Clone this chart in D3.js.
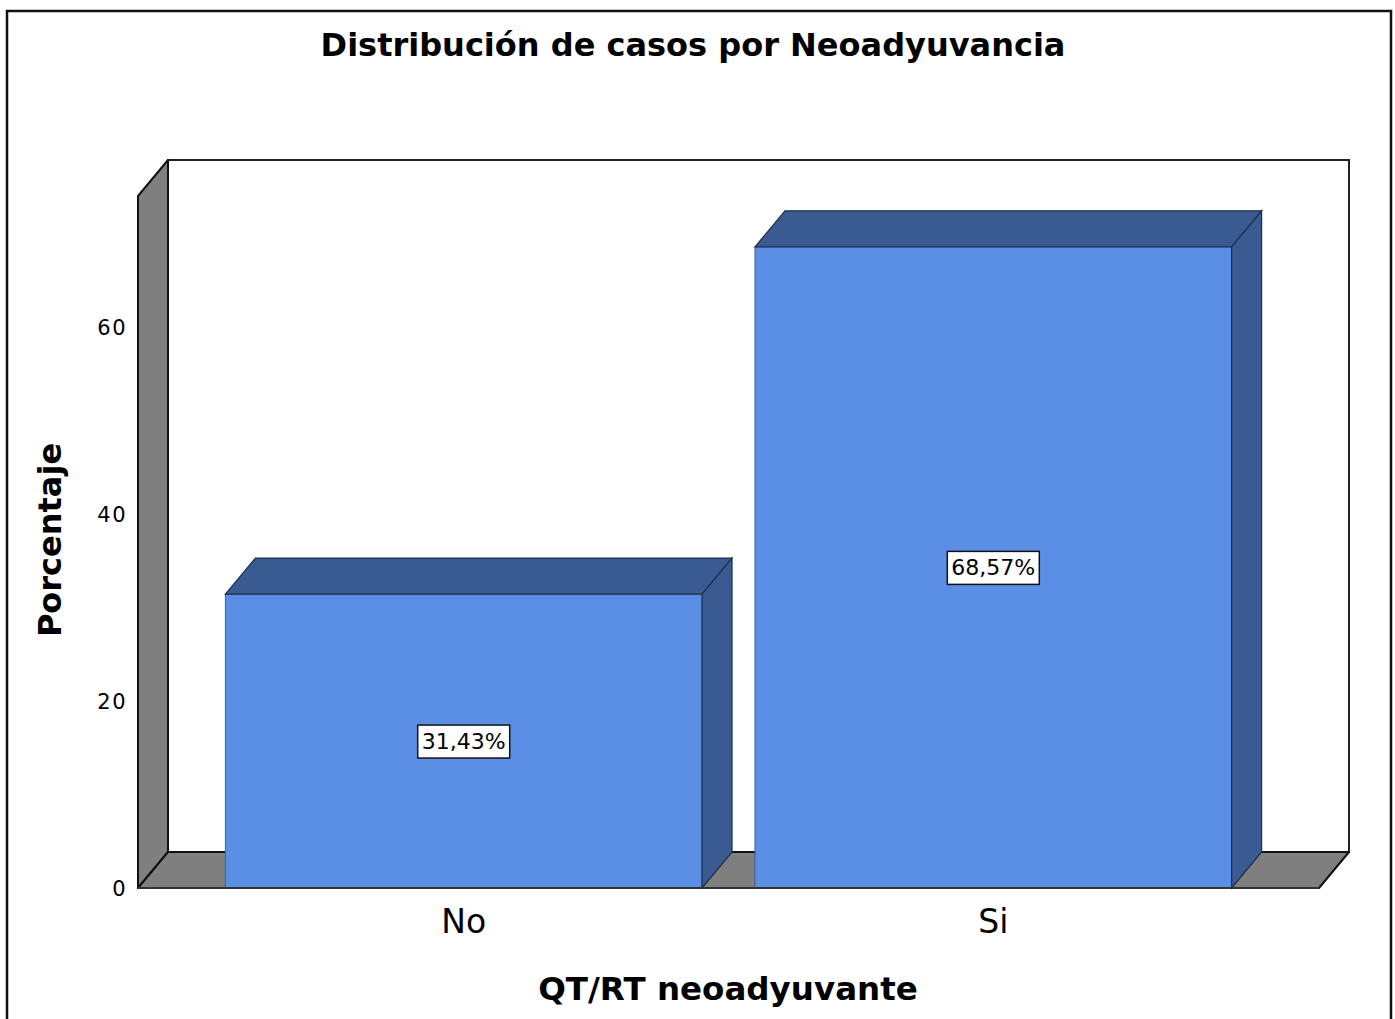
<!DOCTYPE html>
<html>
<head>
<meta charset="utf-8">
<script src="https://cdn.jsdelivr.net/npm/d3@7"></script>
<style>
  body { margin: 0; background: #fff; }
  text { font-family: "DejaVu Sans", sans-serif; fill: #000; }
</style>
</head>
<body>
<div id="chart"></div>
<script>
// 3D-look bar chart (SPSS style) — D3 v7

// === data ===
const categories = ["No", "Si"];
const percents   = [31.43, 68.57];
const labels     = ["31,43%", "68,57%"];
const yTicks     = [0, 20, 40, 60];

const titleText  = "Distribución de casos por Neoadyuvancia";
const xTitle     = "QT/RT neoadyuvante";
const yTitle     = "Porcentaje";

// === sizing ===
const W = 1395, H = 1019;
const x0 = 138, x1 = 1319;     // front floor edge
const yBase = 888, yTop = 196; // front plane of axis
const dx = 30, dy = -36;       // depth offset

const svg = d3.select("#chart").append("svg")
  .attr("width", W).attr("height", H);

// outer frame
svg.append("rect")
  .attr("x", 7).attr("y", 11).attr("width", 1384).attr("height", 1030)
  .attr("fill", "#fff").attr("stroke", "#111").attr("stroke-width", 2.5);

const x = d3.scaleBand().domain(categories).range([x0, x1])
  .paddingInner(0.1).paddingOuter(0.165);
const y = d3.scaleLinear().domain([0, 74]).range([yBase, yTop]);

const pts = a => a.map(p => p.join(",")).join(" ");

// back wall
svg.append("rect")
  .attr("x", x0 + dx).attr("y", y(74) + dy)
  .attr("width", x1 - x0).attr("height", y(0) - y(74))
  .attr("fill", "#fff").attr("stroke", "#222").attr("stroke-width", 2);

// left wall
svg.append("polygon")
  .attr("points", pts([[x0, y(74)], [x0 + dx, y(74) + dy], [x0 + dx, y(0) + dy], [x0, y(0)]]))
  .attr("fill", "#7f7f7f").attr("stroke", "#111").attr("stroke-width", 2).attr("stroke-linejoin", "round");

// floor
svg.append("polygon")
  .attr("points", pts([[x0, y(0)], [x0 + dx, y(0) + dy], [x1 + dx, y(0) + dy], [x1, y(0)]]))
  .attr("fill", "#7f7f7f").attr("stroke", "#111").attr("stroke-width", 2).attr("stroke-linejoin", "round");

// y tick labels
svg.append("g").selectAll("text").data(yTicks).join("text")
  .attr("x", 127).attr("y", d => y(d) + 8)
  .attr("text-anchor", "end")
  .style("font-size", "21px").style("letter-spacing", "1.5px")
  .text(d => d);

// bars
const bars = svg.append("g").selectAll("g").data(categories).join("g");
const front = "#5b8fe6", dark = "#3a5a92", edge = "#1e2e4e";

bars.each(function (c, i) {
  const g = d3.select(this);
  const bx = x(c), bw = x.bandwidth(), ty = y(percents[i]);
  g.append("rect")
    .attr("x", bx).attr("y", ty).attr("width", bw).attr("height", y(0) - ty)
    .attr("fill", front).attr("stroke", "#3d5f9a").attr("stroke-width", 1);
  g.append("polygon")
    .attr("points", pts([[bx, ty], [bx + dx, ty + dy], [bx + bw + dx, ty + dy], [bx + bw, ty]]))
    .attr("fill", dark).attr("stroke", edge).attr("stroke-width", 1.2);
  g.append("polygon")
    .attr("points", pts([[bx + bw, ty], [bx + bw + dx, ty + dy], [bx + bw + dx, y(0) + dy], [bx + bw, y(0)]]))
    .attr("fill", dark).attr("stroke", edge).attr("stroke-width", 1.2);
});

// base line on top of bar fronts
svg.append("line")
  .attr("x1", x0).attr("x2", x1).attr("y1", y(0)).attr("y2", y(0))
  .attr("stroke", "#333").attr("stroke-width", 2);

// value labels
bars.each(function (c, i) {
  const g = d3.select(this);
  const cx = x(c) + x.bandwidth() / 2, cy = y(percents[i] / 2);
  g.append("rect")
    .attr("x", cx - 46).attr("y", cy - 16).attr("width", 92).attr("height", 33)
    .attr("fill", "#fff").attr("stroke", "#111").attr("stroke-width", 1.5);
  g.append("text")
    .attr("x", cx).attr("y", cy + 8)
    .attr("text-anchor", "middle")
    .style("font-size", "22px")
    .text(labels[i]);
});

// category labels
svg.append("g").selectAll("text").data(categories).join("text")
  .attr("x", d => x(d) + x.bandwidth() / 2).attr("y", 933)
  .attr("text-anchor", "middle")
  .style("font-size", "33px")
  .text(d => d);

// titles
svg.append("text")
  .attr("x", 693).attr("y", 56)
  .attr("text-anchor", "middle")
  .style("font-size", "32px").style("font-weight", "bold")
  .text(titleText);

svg.append("text")
  .attr("x", 728).attr("y", 1000)
  .attr("text-anchor", "middle")
  .style("font-size", "32.5px").style("font-weight", "bold")
  .text(xTitle);

svg.append("text")
  .attr("transform", "translate(61,540) rotate(-90)")
  .attr("text-anchor", "middle")
  .style("font-size", "32px").style("font-weight", "bold")
  .text(yTitle);
</script>
</body>
</html>
